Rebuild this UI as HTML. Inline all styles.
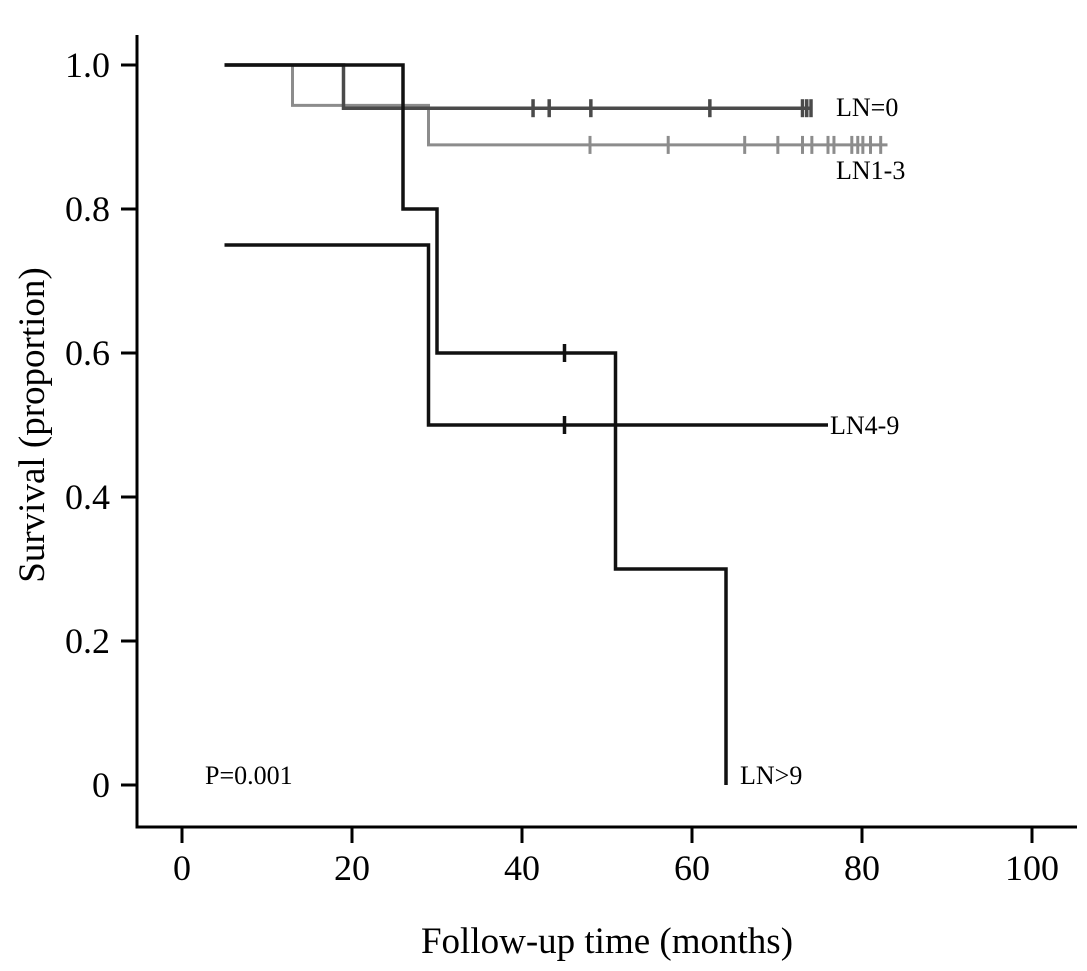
<!DOCTYPE html>
<html><head><meta charset="utf-8"><style>
body{margin:0;background:#fff;}
svg text{font-family:"Liberation Serif",serif;}
</style></head><body>
<svg id="chart" width="1087" height="966" xmlns="http://www.w3.org/2000/svg">
<g id="axes"></g><g id="series"></g><g id="labels"></g>
</svg>
<script>
const xTicks=[0,20,40,60,80,100];
const yTicks=[0,0.2,0.4,0.6,0.8,1.0];
const yTickLabels=["0","0.2","0.4","0.6","0.8","1.0"];
const ln0Times=[5,19,74];
const ln0Surv=[1.0,0.94,0.94];
const ln0Censor=[41.3,43.2,48.1,62.1,73,73.5,74];
const ln13Times=[5,13,29,83];
const ln13Surv=[1.0,0.944,0.889,0.889];
const ln13Censor=[48,57.2,66.2,70.1,73,74.1,76,76.7,78.8,79.5,80.1,81,82.2];
const ln9Times=[5,26,30,51,64,64];
const ln9Surv=[1.0,0.8,0.6,0.3,0.0,0.0];
const ln9Censor=[45];
const ln49Times=[5,29,76];
const ln49Surv=[0.75,0.5,0.5];
const ln49Censor=[45];

const X=v=>182+v*8.5, Y=v=>785-v*720;
const NS='http://www.w3.org/2000/svg';
function mk(parent,tag,attrs,txt){const e=document.createElementNS(NS,tag);for(const k in attrs)e.setAttribute(k,attrs[k]);if(txt!==undefined)e.textContent=txt;document.getElementById(parent).appendChild(e);return e;}
let e=mk('axes','path',{d:'M137,35 V827 H1077',fill:'none',stroke:'#000','stroke-width':3});


xTicks.forEach(t=>{
 let l=mk('axes','line',{x1:X(t),x2:X(t),y1:827,y2:843,stroke:'#000','stroke-width':3});
 
 
 let tx=mk('axes','text',{x:X(t),y:880,'text-anchor':'middle','font-size':36},String(t));
 
 
});
yTicks.forEach((t,i)=>{
 let l=mk('axes','line',{x1:121,x2:137,y1:Y(t),y2:Y(t),stroke:'#000','stroke-width':3});
 
 
 let tx=mk('axes','text',{x:110,y:Y(t)+12,'text-anchor':'end','font-size':36},yTickLabels[i]);
 
 
});
e=mk('axes','text',{x:607,y:953,'text-anchor':'middle','font-size':37},'Follow-up time (months)');


e=mk('axes','text',{x:0,y:0,'text-anchor':'middle','font-size':37,transform:'translate(44,425) rotate(-90)'},'Survival (proportion)');



function step(times,surv){let d='M'+X(times[0])+','+Y(surv[0]);for(let i=1;i<times.length;i++){d+=' H'+X(times[i])+' V'+Y(surv[i]);}return d;}
function survAt(times,surv,t){let s=surv[0];for(let i=0;i<times.length;i++){if(times[i]<=t)s=surv[i];}return s;}
function series(name,times,surv,cens,color,w){
 let p=mk('series','path',{d:step(times,surv),fill:'none',stroke:color,'stroke-width':w});
 
 
 cens.forEach(c=>{const y=Y(survAt(times,surv,c));
  let l=mk('series','line',{x1:X(c),x2:X(c),y1:y-9,y2:y+9,stroke:color,'stroke-width':w});
  
  
 });
}
series('ln1-3',ln13Times,ln13Surv,ln13Censor,'#8c8c8c',3);
series('ln0',ln0Times,ln0Surv,ln0Censor,'#4a4a4a',3.5);
series('ln4-9',ln49Times,ln49Surv,ln49Censor,'#111',3.5);
series('ln9',ln9Times,ln9Surv,ln9Censor,'#111',3.5);
[['LN=0',836,116,'label-ln0'],['LN1-3',836,179,'label-ln1-3'],['LN4-9',830,434,'label-ln4-9'],['LN>9',740,784,'label-ln-gt9'],['P=0.001',205,784,'p-value']].forEach(a=>{
 let t=mk('labels','text',{x:a[1],y:a[2],'font-size':26},a[0]);
 
 
});
</script>
</body></html>
